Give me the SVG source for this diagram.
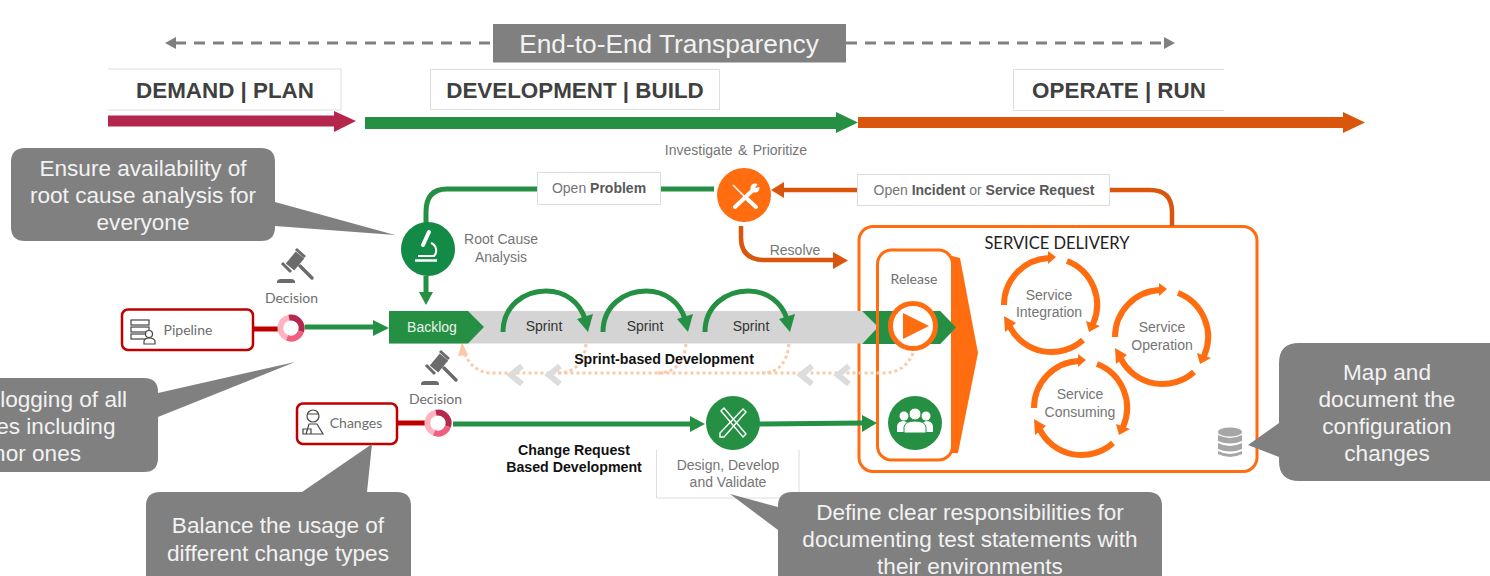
<svg xmlns="http://www.w3.org/2000/svg" width="1490" height="576" viewBox="0 0 1490 576">
<style>
text{font-family:"Liberation Sans",Arial,sans-serif;text-anchor:middle}
.thin{font-family:Lato,"Noto Sans",sans-serif;font-size:14px;fill:#6e6e6e}
.lab{font-size:14px;fill:#757575}
.b{font-weight:bold;fill:#595959}
.blk{font-size:14.200px;font-weight:bold;fill:#111}
.head{font-size:22.400px;font-weight:bold;fill:#404040}
.call{font-size:22.600px;fill:#f2f2f2}
.bub{fill:#808080}
.hb{fill:#fff;stroke:#ddd;stroke-width:1}
.g{fill:none;stroke:#259044;stroke-width:5}
.o{fill:none;stroke:#d9560c;stroke-width:4.500}
.gf{fill:#259044}.of{fill:#d9560c}.oo{fill:#ff6d10}
.sb{fill:none;stroke:#ff6d10;stroke-width:3}
.rg{fill:none;stroke:#ff6d10;stroke-width:6}
.w{fill:none;stroke:#fff;stroke-width:3;stroke-linecap:round}
.wt{fill:none;stroke:#fff;stroke-width:1.400}
.peach{fill:none;stroke:#fbc9a8;stroke-width:3;stroke-dasharray:3 3}
.chev{fill:none;stroke:#dcdcdc;stroke-width:6}
.red{fill:#fff;stroke:#c00000;stroke-width:2.500}
.ic{fill:none;stroke:#444;stroke-width:1.200}
</style>
<defs>
<g id="ring">
<path class="rg" d="M-47 0A47 47 0 0 1-2-47"/><polygon class="oo" points="-3,-54 5,-48 -3,-41"/>
<path class="rg" d="M16-44A47 47 0 0 1 42 19"/><polygon class="oo" points="49,21 38,27 35,16"/>
<path class="rg" d="M32 35A47 47 0 0 1-41 22"/><polygon class="oo" points="-47,11 -35,18 -46,27"/>
</g>
<g id="dec">
<path fill="none" stroke="#ffb3c1" stroke-width="6" d="M-4 9.800A10.500 10.500 0 0 1-2-10.300"/>
<path fill="none" stroke="#b5294e" stroke-width="6" d="M-2-10.300A10.500 10.500 0 0 1 10 3.500"/>
<path fill="none" stroke="#f0607e" stroke-width="6" d="M10 3.500A10.500 10.500 0 0 1-4 9.800"/>
</g>
<g id="gavel" fill="#6b6b6b">
<path d="M13 19L23 7" fill="none" stroke="#6b6b6b" stroke-width="11"/>
<path d="M5 15L14 24M19 1L28 9" fill="none" stroke="#6b6b6b" stroke-width="3"/>
<path d="M23 18L35 30" fill="none" stroke="#6b6b6b" stroke-width="3.500" stroke-linecap="round"/>
<path d="M0 35V34Q0 31 4 31H14Q18 31 18 34V35Z"/>
</g>
</defs>

<g id="transparency">
<path d="M175 43H493M846 43H1165" fill="none" stroke="#808080" stroke-width="3" stroke-dasharray="11 8"/>
<polygon points="165,43 176,37 176,49" fill="#808080"/>
<polygon points="1175,43 1164,37 1164,49" fill="#808080"/>
<rect x="493" y="24" width="353" height="38.500" fill="#808080"/>
<text x="669" y="53" font-size="26.300" fill="#f2f2f2">End-to-End Transparency</text>
</g>

<g id="phase-demand">
<path d="M108 69H341V110H108" class="hb"/>
<text class="head" x="225" y="98">DEMAND | PLAN</text>
<polygon points="108,115.500 334,115.500 334,111 356,121 334,132 334,126.500 108,126.500" fill="#b5264c"/>
</g>
<g id="phase-build">
<rect x="430.500" y="69.500" width="289" height="40" class="hb"/>
<text class="head" x="575" y="98">DEVELOPMENT | BUILD</text>
<polygon points="365,117 836,117 836,112 858,122.500 836,133 836,129 365,129" class="gf"/>
</g>
<g id="phase-run">
<path d="M1224 69.500H1013.500V110.500H1224" class="hb"/>
<text class="head" x="1119" y="98">OPERATE | RUN</text>
<polygon points="858,117 1343,117 1343,112 1365,122.500 1343,133 1343,128 858,128" class="of"/>
</g>

<g id="service-delivery">
<rect x="859" y="226.500" width="398" height="245" rx="14" class="sb"/>
<text x="1057" y="249" style="font-family:Lato,'Noto Sans',sans-serif" font-size="16.500" fill="#222">SERVICE DELIVERY</text>
</g>

<g id="track">
<polygon points="389,311 862,311 878,327 862,343.500 389,343.500" fill="#d4d4d4"/>
<polygon points="862,311 940,311 956,327.500 940,344 862,344 878,327" class="gf"/>
</g>

<g id="release">
<rect x="877.500" y="250" width="75" height="210" rx="14" class="sb"/>
<text class="thin" x="914" y="284" fill="#888">Release</text>
<polygon points="952,256 960,258 978,353 958,453 952,453" class="oo"/>
<polygon points="940,311 956,327.500 940,344" class="gf"/>
<circle cx="913" cy="326" r="22.500" fill="#fff" stroke="#ff6d10" stroke-width="5"/>
<polygon points="903,313 903,339 929,326" class="oo"/>
</g>
<g id="team">
<circle cx="915" cy="423" r="27" class="gf"/>
<g fill="#fff">
<circle cx="904" cy="416" r="4.500"/><circle cx="926" cy="416" r="4.500"/>
<path d="M897 432V426Q898 421 904 421L908 423 905 432ZM933 432V426Q932 421 926 421L922 423 925 432Z"/>
<circle cx="915" cy="414" r="6" stroke="#259044"/>
<path d="M904 433V427Q905 421 915 421 925 421 926 427V433Z" stroke="#259044"/>
</g>
</g>

<g id="connectors">
<path class="g" d="M714 189H447Q426 189 426 212V224"/>
<path class="g" d="M426 276V293"/><polygon class="gf" points="419,292 433,292 426,305"/>
<path class="o" d="M857 190H782"/><polygon class="of" points="784,182 784,198 771,190"/>
<path class="o" d="M1110 190H1150Q1172 190 1172 212V226"/>
<path class="o" d="M741 226V238Q741 260 765 260H835"/><polygon class="of" points="833,252 833,269 848,260.500"/>
<path d="M253 329H280" fill="none" stroke="#c00000" stroke-width="5"/>
<path d="M397 423H426" fill="none" stroke="#c00000" stroke-width="5"/>
<path class="g" d="M305 327H375"/><polygon class="gf" points="373,320 373,336 389,328"/>
<path class="g" d="M453 424H692"/><polygon class="gf" points="690,416 690,432 705,424"/>
<path class="g" d="M759 424L864 423"/><polygon class="gf" points="862,415 862,432 877,423"/>
<g id="sprint-loops" class="g">
<path d="M503 332C503 306 524 291 546 291 566 291 580 303 585 319"/>
<path d="M603 332C603 306 624 291 646 291 666 291 680 303 685 319"/>
<path d="M705 332C705 306 726 291 748 291 768 291 782 303 787 319"/>
</g>
<polygon class="gf" points="577,319 593,314 588,332"/>
<polygon class="gf" points="677,319 693,314 688,332"/>
<polygon class="gf" points="779,319 795,314 790,332"/>
<g id="return-flow">
<path class="peach" d="M913 353Q905 373 883 373H492Q472 373 463 350"/>
<path class="peach" d="M586 344Q583 373 557 373"/>
<path class="peach" d="M686 344Q683 373 657 373"/>
<path class="peach" d="M789 344Q786 373 762 373"/>
<polygon points="462,342 468,355 458,356" fill="#fbc9a8"/>
</g>
<polyline class="chev" points="522,366 511,375 522,384"/>
<polyline class="chev" points="560,366 549,375 560,384"/>
<polyline class="chev" points="812,366 801,375 812,384"/>
<polyline class="chev" points="849,366 838,375 849,384"/>
</g>

<g id="backlog">
<polygon points="389,311 468,311 484,327 468,343.500 389,343.500" class="gf"/>
<text x="432" y="332" font-size="14" fill="#e8f3ea">Backlog</text>
</g>
<g id="sprints">
<text x="544" y="331" font-size="14" fill="#333">Sprint</text>
<text x="645" y="331" font-size="14" fill="#333">Sprint</text>
<text x="751" y="331" font-size="14" fill="#333">Sprint</text>
<text class="blk" x="664" y="364">Sprint-based Development</text>
</g>

<g id="open-problem">
<rect x="537.500" y="172.500" width="123" height="32" class="hb"/>
<text class="lab" x="599" y="193">Open <tspan class="b">Problem</tspan></text>
</g>
<g id="open-incident">
<rect x="857.500" y="174.500" width="252" height="31" class="hb"/>
<text class="lab" x="984" y="195">Open <tspan class="b">Incident</tspan> or <tspan class="b">Service Request</tspan></text>
</g>
<g id="investigate">
<text class="lab" x="736" y="155" word-spacing="1.500">Investigate &amp; Prioritize</text>
<circle cx="744" cy="195" r="27" class="oo"/>
<path d="M733 185L746 198" fill="none" stroke="#fff" stroke-width="1.500"/>
<path class="w" style="stroke-width:4" d="M745 197L756 207M735 207L753 190"/>
<circle cx="755" cy="188" r="4.500" fill="#fff"/>
<path d="M755 188L760 181 763 186Z" class="oo"/>
</g>
<g id="root-cause">
<circle cx="428" cy="249" r="27" fill="#138a45"/>
<path class="w" style="stroke-width:4" d="M429 232L423 245"/>
<path d="M415 260.500H437" fill="none" stroke="#fff" stroke-width="2.500"/>
<path class="wt" d="M431 243A8 8 0 0 1 434 256H418" style="stroke-width:2"/>
<text class="lab" x="501" y="244">Root Cause</text>
<text class="lab" x="501" y="262">Analysis</text>
</g>
<g id="resolve"><text class="lab" x="795" y="255">Resolve</text></g>

<g id="pipeline">
<rect x="122" y="309.500" width="131" height="40.500" rx="6" class="red"/>
<g class="ic">
<rect x="131" y="320" width="18" height="5"/><rect x="131" y="327" width="18" height="5"/><rect x="131" y="334" width="18" height="5"/>
<circle cx="149" cy="334" r="3.500" fill="#fff"/><path d="M144 344V341Q145 338 149 338 154 338 155 341V344Z" fill="#fff"/>
</g>
<text class="thin" x="188" y="335">Pipeline</text>
</g>
<g id="decision-1">
<use href="#gavel" x="277" y="248"/>
<text class="thin" x="291.500" y="303">Decision</text>
<use href="#dec" x="291" y="328"/>
</g>
<g id="changes">
<rect x="297" y="403.500" width="100" height="40.500" rx="6" class="red"/>
<g class="ic">
<circle cx="313" cy="416" r="6"/><path d="M307 414H319M306 434L309 424H317L323 434ZM303 429H311V434H303Z"/>
</g>
<text class="thin" x="356" y="428">Changes</text>
</g>
<g id="decision-2">
<use href="#gavel" x="421" y="350"/>
<text class="thin" x="435.500" y="404">Decision</text>
<use href="#dec" x="438" y="423"/>
</g>

<g id="design">
<path d="M656.500 450V498H799V450" fill="none" stroke="#ddd"/>
<circle cx="733" cy="423" r="27" class="gf"/>
<path class="wt" d="M721 411L724 408 746 434 743 437ZM743 409L746 412 724 437 720 437 720 433Z"/>
<text class="lab" x="728" y="470">Design, Develop</text>
<text class="lab" x="728" y="487">and Validate</text>
</g>
<g id="change-request">
<text class="blk" x="574" y="455">Change Request</text>
<text class="blk" x="574" y="472">Based Development</text>
</g>

<g id="service-integration">
<use href="#ring" x="1051" y="305"/>
<text class="lab" x="1049" y="300">Service</text><text class="lab" x="1049" y="317">Integration</text>
</g>
<g id="service-operation">
<use href="#ring" x="1162" y="337"/>
<text class="lab" x="1162" y="332">Service</text><text class="lab" x="1162" y="350">Operation</text>
</g>
<g id="service-consuming">
<use href="#ring" x="1081" y="408"/>
<text class="lab" x="1080" y="399">Service</text><text class="lab" x="1080" y="417">Consuming</text>
</g>
<g id="cmdb" fill="#a6a6a6">
<ellipse cx="1230" cy="432" rx="12" ry="4.500"/>
<path d="M1218 435Q1230 441 1242 435V441Q1230 446 1218 441Z"/>
<path d="M1218 443Q1230 449 1242 443V449Q1230 454 1218 449Z"/>
<path d="M1218 451Q1230 457 1242 451V454Q1230 460 1218 454Z"/>
</g>

<g id="note-rca">
<path class="bub" d="M25 148H261Q275 148 275 162V202L395 235 275 226V227Q275 241 261 241H25Q11 241 11 227V162Q11 148 25 148Z"/>
<text class="call" x="143" y="176">Ensure availability of</text>
<text class="call" x="143" y="203">root cause analysis for</text>
<text class="call" x="143" y="230">everyone</text>
</g>
<g id="note-logging">
<path class="bub" d="M-20 378H144Q158 378 158 392V393L295 362 158 417V458Q158 472 144 472H-20Z"/>
<text class="call" x="127" y="407" style="text-anchor:end">logging of all</text>
<text class="call" x="115.500" y="434" style="text-anchor:end">es including</text>
<text class="call" x="81" y="461" style="text-anchor:end">nor ones</text>
</g>
<g id="note-balance">
<path class="bub" d="M160 492H302L372 444 367 492H397Q411 492 411 506V590H146V506Q146 492 160 492Z"/>
<text class="call" x="278" y="533">Balance the usage of</text>
<text class="call" x="278" y="561">different change types</text>
</g>
<g id="note-define">
<path class="bub" d="M792 492H1148Q1162 492 1162 506V590H778V530L730 494 778 507V506Q778 492 792 492Z"/>
<text class="call" x="970" y="520">Define clear responsibilities for</text>
<text class="call" x="970" y="547">documenting test statements with</text>
<text class="call" x="970" y="574">their environments</text>
</g>
<g id="note-map">
<path class="bub" d="M1299 343H1510V481H1299Q1279 481 1279 461V457L1248 445 1279 423V363Q1279 343 1299 343Z"/>
<text class="call" x="1387" y="380">Map and</text>
<text class="call" x="1387" y="407">document the</text>
<text class="call" x="1387" y="434">configuration</text>
<text class="call" x="1387" y="461">changes</text>
</g>
</svg>
